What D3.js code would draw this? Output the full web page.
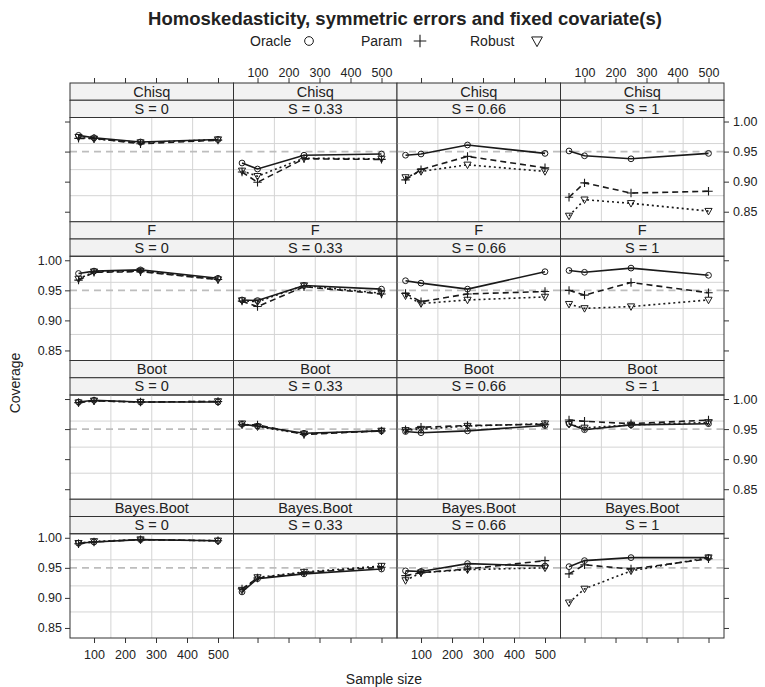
<!DOCTYPE html>
<html>
<head>
<meta charset="utf-8">
<script src="https://cdn.jsdelivr.net/npm/d3@7"></script>
<style>
  body { margin: 0; background: #fff; }
  svg text { font-family: "Liberation Sans", Arial, Helvetica, sans-serif; fill: #222; }
</style>
</head>
<body>
<svg id="chart" width="765" height="687"></svg>
<script>
// Coverage of 95% intervals by method, skewness level and sample size.
const sampleSizes = [50, 100, 250, 500];
const methods = ["Chisq", "F", "Boot", "Bayes.Boot"];
const skewLevels = ["S = 0", "S = 0.33", "S = 0.66", "S = 1"];
const estimators = ["Oracle", "Param", "Robust"];
const xTicks = [100, 200, 300, 400, 500];
const yTicks = [0.85, 0.90, 0.95, 1.00];
const nominal = 0.95;

// Coverage per panel, rows = methods, columns = skew levels
const oracle = [
  [[0.977, 0.973, 0.966, 0.970], [0.931, 0.921, 0.944, 0.946], [0.944, 0.946, 0.961, 0.947], [0.951, 0.943, 0.938, 0.947]],
  [[0.978, 0.982, 0.984, 0.970], [0.934, 0.933, 0.958, 0.952], [0.966, 0.962, 0.952, 0.981], [0.983, 0.980, 0.987, 0.975]],
  [[0.995, 0.998, 0.995, 0.995], [0.958, 0.955, 0.943, 0.947], [0.946, 0.944, 0.947, 0.956], [0.959, 0.949, 0.957, 0.959]],
  [[0.991, 0.993, 0.997, 0.995], [0.910, 0.932, 0.940, 0.948], [0.945, 0.944, 0.957, 0.953], [0.952, 0.962, 0.967, 0.967]]
];
const param = [
  [[0.972, 0.972, 0.963, 0.969], [0.916, 0.899, 0.938, 0.937], [0.903, 0.920, 0.942, 0.923], [0.874, 0.898, 0.881, 0.884]],
  [[0.967, 0.980, 0.981, 0.968], [0.932, 0.923, 0.956, 0.944], [0.945, 0.931, 0.944, 0.948], [0.950, 0.942, 0.963, 0.946]],
  [[0.994, 0.997, 0.995, 0.996], [0.957, 0.957, 0.941, 0.947], [0.949, 0.953, 0.956, 0.958], [0.965, 0.963, 0.959, 0.965]],
  [[0.990, 0.993, 0.997, 0.995], [0.915, 0.933, 0.942, 0.951], [0.937, 0.942, 0.948, 0.962], [0.940, 0.955, 0.948, 0.965]]
];
const robust = [
  [[0.974, 0.971, 0.965, 0.970], [0.918, 0.909, 0.939, 0.938], [0.907, 0.917, 0.928, 0.917], [0.843, 0.870, 0.864, 0.851]],
  [[0.969, 0.981, 0.982, 0.968], [0.933, 0.931, 0.958, 0.945], [0.941, 0.928, 0.934, 0.939], [0.927, 0.920, 0.923, 0.934]],
  [[0.994, 0.997, 0.995, 0.996], [0.959, 0.954, 0.942, 0.947], [0.948, 0.950, 0.955, 0.959], [0.958, 0.952, 0.957, 0.961]],
  [[0.991, 0.994, 0.997, 0.995], [0.913, 0.934, 0.943, 0.953], [0.929, 0.942, 0.947, 0.950], [0.892, 0.915, 0.945, 0.967]]
];
const seriesData = [oracle, param, robust];

const svg = d3.select("#chart");

// Layout of the 4 x 4 trellis
const plotL = 70, plotR = 724, plotT = 83, plotB = 638;
const nCol = 4, nRow = 4;
const colW = (plotR - plotL) / nCol;
const rowH = (plotB - plotT) / nRow;
const stripH = 17.25;
const panelH = rowH - 2 * stripH;

const x = d3.scaleLinear().domain([22.5, 550]).range([0, colW]);
const y = d3.scaleLinear().domain([0.8333, 1.0067]).range([panelH, 0]);

const lineStyles = [null, "6,4", "2,3"];
const ink = "#1a1a1a";

function drawSymbol(g, kind, cx, cy, scale) {
  const s = scale || 1;
  if (kind === 0) {
    g.append("circle").attr("cx", cx).attr("cy", cy).attr("r", 2.9 * s)
      .attr("fill", "none").attr("stroke", ink).attr("stroke-width", 1);
  } else if (kind === 1) {
    const d = 4.2 * s;
    g.append("path").attr("d", `M${cx - d},${cy}H${cx + d}M${cx},${cy - d}V${cy + d}`)
      .attr("stroke", ink).attr("stroke-width", 1.1).attr("fill", "none");
  } else {
    const d = 3.6 * s;
    g.append("path").attr("d", `M${cx - d},${cy - d * 0.75}H${cx + d}L${cx},${cy + d * 1.05}Z`)
      .attr("stroke", ink).attr("stroke-width", 1).attr("fill", "none");
  }
}

// Title and key
svg.append("text").attr("x", 405).attr("y", 25).attr("text-anchor", "middle")
  .style("font-size", "18.5px").style("font-weight", "bold")
  .text("Homoskedasticity, symmetric errors and fixed covariate(s)");

const key = svg.append("g").attr("transform", "translate(0,46)");
const keyPos = [[250, 309], [361, 420], [470, 537]];
estimators.forEach((name, i) => {
  key.append("text").attr("x", keyPos[i][0]).attr("y", 0).style("font-size", "14px").text(name);
  drawSymbol(key, i, keyPos[i][1], -5, 1.5);
});

for (let r = 0; r < nRow; r++) {
  for (let c = 0; c < nCol; c++) {
    const x0 = plotL + c * colW;
    const y0 = plotT + r * rowH;
    const g = svg.append("g").attr("transform", `translate(${x0},${y0})`);

    // Strips
    [methods[r], skewLevels[c]].forEach((lab, k) => {
      g.append("rect").attr("x", 0).attr("y", k * stripH).attr("width", colW).attr("height", stripH)
        .attr("fill", "#f2f2f2").attr("stroke", "#333").attr("stroke-width", 1);
      g.append("text").attr("x", colW / 2).attr("y", k * stripH + stripH / 2 + 5)
        .attr("text-anchor", "middle").style("font-size", "14.5px").text(lab);
    });

    const p = g.append("g").attr("transform", `translate(0,${2 * stripH})`);

    // Reference grid: three evenly spaced lines each way
    [0.25, 0.5, 0.75].forEach(f => {
      p.append("line").attr("x1", colW * f).attr("x2", colW * f).attr("y1", 0).attr("y2", panelH)
        .attr("stroke", "#d4d4d4").attr("stroke-width", 1);
      p.append("line").attr("x1", 0).attr("x2", colW).attr("y1", panelH * f).attr("y2", panelH * f)
        .attr("stroke", "#d4d4d4").attr("stroke-width", 1);
    });

    // Nominal level
    p.append("line").attr("x1", 0).attr("x2", colW).attr("y1", y(nominal)).attr("y2", y(nominal))
      .attr("stroke", "#bdbdbd").attr("stroke-width", 1.6).attr("stroke-dasharray", "7,5");

    // Series lines and symbols
    seriesData.forEach((sd, k) => {
      const vals = sd[r][c];
      const pts = sampleSizes.map((n, i) => [x(n), y(vals[i])]);
      p.append("path").attr("d", d3.line()(pts)).attr("fill", "none")
        .attr("stroke", ink).attr("stroke-width", 1.6)
        .attr("stroke-dasharray", lineStyles[k]);
      pts.forEach(pt => drawSymbol(p, k, pt[0], pt[1], 1));
    });

    // Panel border
    p.append("rect").attr("x", 0).attr("y", 0).attr("width", colW).attr("height", panelH)
      .attr("fill", "none").attr("stroke", "#333").attr("stroke-width", 1);

    // Horizontal axes: ticks on both edges, labels alternate top / bottom
    if (r === 0) {
      const ax = d3.axisTop(x).tickValues(xTicks).tickSize(5).tickPadding(1.5)
        .tickFormat(c % 2 === 1 ? d3.format("d") : () => "");
      g.append("g").attr("class", "axis").call(ax);
    }
    if (r === nRow - 1) {
      const ax = d3.axisBottom(x).tickValues(xTicks).tickSize(5).tickPadding(7)
        .tickFormat(c % 2 === 0 ? d3.format("d") : () => "");
      p.append("g").attr("class", "axis").attr("transform", `translate(0,${panelH})`).call(ax);
    }
    // Vertical axes: labels alternate right / left
    if (c === 0) {
      const ay = d3.axisLeft(y).tickValues(yTicks).tickSize(5).tickPadding(3)
        .tickFormat(r % 2 === 1 ? d3.format(".2f") : () => "");
      p.append("g").attr("class", "axis").call(ay);
    }
    if (c === nCol - 1) {
      const ay = d3.axisRight(y).tickValues(yTicks).tickSize(5).tickPadding(4)
        .tickFormat(r % 2 === 0 ? d3.format(".2f") : () => "");
      p.append("g").attr("class", "axis").attr("transform", `translate(${colW},0)`).call(ay);
    }
  }
}

svg.selectAll(".axis .domain").remove();
svg.selectAll(".axis line").attr("stroke", "#333");
svg.selectAll(".axis text").style("font-size", "12.5px").attr("fill", "#333");

// Axis titles
svg.append("text").attr("transform", "translate(20,383) rotate(-90)").attr("text-anchor", "middle")
  .style("font-size", "14px").text("Coverage");
svg.append("text").attr("x", 384).attr("y", 684).attr("text-anchor", "middle")
  .style("font-size", "14px").text("Sample size");
</script>
</body>
</html>
